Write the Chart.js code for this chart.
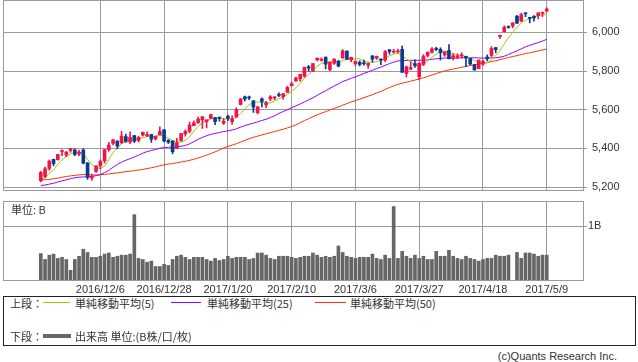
<!DOCTYPE html>
<html>
<head>
<meta charset="utf-8">
<script src="https://cdn.jsdelivr.net/npm/chart.js@4.4.0/dist/chart.umd.min.js"></script>
<style>
  body { margin: 0; background: #fff; width: 638px; height: 362px; overflow: hidden; position: relative;
         font-family: "Noto Sans CJK JP", "Liberation Sans", sans-serif; color: #333; }
  canvas { position: absolute; left: 0; }
  #price { top: 0; }
  #volume { top: 195px; }
  .t { position: absolute; font-size: 11px; line-height: 14px; white-space: nowrap; }
  .ln { position: absolute; height: 0; }
  #legendBox { position: absolute; left: 3px; top: 296px; width: 633px; height: 50px; border: 1px solid #222; box-sizing: border-box; }
</style>
</head>
<body>
<canvas id="price" width="638" height="192"></canvas>
<canvas id="volume" width="638" height="100"></canvas>
<div class="t" style="left:11px; top:202px;">単位: B</div>

<div id="legendBox"></div>
<div class="t" style="left:10px; top:296px;">上段：</div>
<div class="ln" style="left:43px; top:302px; width:27px; border-top:1px solid #99cc00;"></div>
<div class="t" style="left:75px; top:296px;">単純移動平均(5)</div>
<div class="ln" style="left:171px; top:302px; width:30px; border-top:1px solid #9900ff;"></div>
<div class="t" style="left:207px; top:296px;">単純移動平均(25)</div>
<div class="ln" style="left:315px; top:302px; width:31px; border-top:1px solid #ff3300;"></div>
<div class="t" style="left:350px; top:296px;">単純移動平均(50)</div>
<div class="t" style="left:10px; top:329px;">下段：</div>
<div class="ln" style="left:43px; top:334px; width:28px; border-top:4px solid #666;"></div>
<div class="t" style="left:75px; top:329px;">出来高 単位:(B株/口/枚)</div>
<div class="t" style="right:21px; top:349px; font-family:'Liberation Sans',sans-serif;">(c)Quants Research Inc.</div>

<script>
// trading days
const dates = ['2016/11/15','2016/11/16','2016/11/17','2016/11/18','2016/11/21','2016/11/22','2016/11/23','2016/11/25','2016/11/28','2016/11/29',
  '2016/11/30','2016/12/1','2016/12/2','2016/12/5','2016/12/6','2016/12/7','2016/12/8','2016/12/9','2016/12/12','2016/12/13',
  '2016/12/14','2016/12/15','2016/12/16','2016/12/19','2016/12/20','2016/12/21','2016/12/22','2016/12/23','2016/12/27','2016/12/28',
  '2016/12/29','2016/12/30','2017/1/3','2017/1/4','2017/1/5','2017/1/6','2017/1/9','2017/1/10','2017/1/11','2017/1/12',
  '2017/1/13','2017/1/17','2017/1/18','2017/1/19','2017/1/20','2017/1/23','2017/1/24','2017/1/25','2017/1/26','2017/1/27',
  '2017/1/30','2017/1/31','2017/2/1','2017/2/2','2017/2/3','2017/2/6','2017/2/7','2017/2/8','2017/2/9','2017/2/10',
  '2017/2/13','2017/2/14','2017/2/15','2017/2/16','2017/2/17','2017/2/21','2017/2/22','2017/2/23','2017/2/24','2017/2/27',
  '2017/2/28','2017/3/1','2017/3/2','2017/3/3','2017/3/6','2017/3/7','2017/3/8','2017/3/9','2017/3/10','2017/3/13',
  '2017/3/14','2017/3/15','2017/3/16','2017/3/17','2017/3/20','2017/3/21','2017/3/22','2017/3/23','2017/3/24','2017/3/27',
  '2017/3/28','2017/3/29','2017/3/30','2017/3/31','2017/4/3','2017/4/4','2017/4/5','2017/4/6','2017/4/7','2017/4/10',
  '2017/4/11','2017/4/12','2017/4/13','2017/4/17','2017/4/18','2017/4/19','2017/4/20','2017/4/21','2017/4/24','2017/4/25',
  '2017/4/26','2017/4/27','2017/4/28','2017/5/1','2017/5/2','2017/5/3','2017/5/4','2017/5/5','2017/5/8','2017/5/9'];

const opens = [5233,5255,5296,5343,5342,5384,5366,5389,5392,5371,
  5392,5325,5247,5281,5310,5336,5394,5426,5438,5429,
  5461,5433,5466,5441,5469,5465,5472,5449,5470,5496,
  5441,5437,5400,5441,5475,5489,5517,5533,5547,5538,
  5556,5559,5561,5530,5566,5538,5563,5627,5667,5665,
  5646,5585,5656,5626,5656,5660,5678,5668,5690,5724,
  5748,5760,5773,5822,5799,5858,5855,5872,5807,5840,
  5850,5867,5903,5858,5838,5845,5841,5830,5878,5866,
  5861,5856,5910,5897,5899,5912,5787,5810,5838,5770,
  5834,5880,5897,5914,5912,5883,5906,5867,5872,5878,
  5876,5865,5832,5812,5835,5872,5880,5921,5978,6003,
  6029,6033,6083,6058,6101,6075,6083,6086,6098,6110];
const highs = [5281,5303,5340,5345,5370,5392,5384,5400,5397,5390,
  5397,5327,5267,5311,5340,5395,5431,5447,5440,5488,
  5474,5486,5468,5462,5485,5486,5472,5463,5512,5497,
  5446,5441,5452,5478,5496,5536,5542,5562,5564,5548,
  5577,5560,5563,5555,5572,5568,5610,5658,5670,5670,
  5647,5617,5661,5643,5673,5669,5687,5683,5721,5743,
  5768,5783,5819,5829,5839,5868,5868,5872,5846,5863,
  5856,5911,5904,5872,5853,5853,5856,5842,5880,5877,
  5863,5906,5911,5912,5913,5929,5826,5847,5858,5842,
  5885,5898,5921,5923,5920,5900,5936,5889,5889,5895,
  5877,5866,5835,5857,5857,5883,5926,5922,5986,6034,
  6033,6050,6088,6098,6101,6076,6087,6101,6105,6126];
const lows = [5227,5249,5287,5310,5339,5362,5357,5380,5362,5363,
  5320,5240,5235,5276,5295,5324,5385,5418,5399,5425,
  5431,5425,5430,5433,5463,5460,5431,5443,5469,5434,
  5425,5372,5398,5438,5463,5480,5517,5529,5503,5506,
  5553,5523,5541,5524,5543,5524,5559,5624,5645,5652,
  5586,5578,5614,5611,5646,5652,5667,5655,5690,5722,
  5747,5747,5768,5798,5797,5852,5851,5811,5802,5834,
  5821,5867,5859,5847,5828,5826,5830,5813,5846,5860,
  5833,5848,5887,5893,5893,5792,5769,5806,5819,5755,
  5828,5872,5892,5905,5857,5876,5862,5857,5864,5867,
  5822,5832,5805,5812,5829,5852,5874,5894,5968,6001,
  6021,6023,6045,6055,6081,6049,6057,6069,6081,6105];
const closes = [5275.6,5294.6,5334.0,5321.5,5368.9,5386.4,5380.7,5398.9,5368.8,5379.9,
  5323.7,5251.1,5255.7,5308.9,5333.0,5393.8,5417.4,5444.5,5412.5,5463.8,
  5436.7,5456.9,5437.2,5457.4,5483.9,5471.4,5447.4,5462.7,5487.4,5438.6,
  5432.1,5383.1,5429.1,5477.0,5487.9,5521.1,5531.8,5551.8,5563.7,5547.5,
  5574.1,5538.7,5555.7,5540.1,5555.3,5552.9,5601.0,5656.3,5655.2,5660.8,
  5613.7,5614.8,5642.7,5636.2,5666.8,5663.6,5674.2,5682.5,5715.2,5734.1,
  5764.0,5782.6,5819.4,5814.9,5838.6,5866.0,5860.6,5835.5,5845.3,5861.9,
  5825.4,5904.0,5861.2,5870.8,5849.2,5833.9,5837.6,5838.8,5861.7,5875.8,
  5856.8,5900.1,5900.8,5901.0,5901.5,5793.8,5821.6,5817.7,5828.7,5840.4,
  5875.1,5897.6,5914.3,5911.7,5894.7,5898.6,5864.5,5879.0,5877.8,5880.9,
  5866.8,5836.2,5805.2,5856.8,5849.5,5863.0,5916.8,5910.5,5983.8,6025.5,
  6025.2,6048.9,6047.6,6091.6,6095.4,6072.6,6075.3,6100.8,6102.7,6120.6];

const ma5 = [5238.2,5246.9,5271.9,5288.8,5318.9,5341.1,5358.3,5371.3,5380.7,5382.9,
  5370.4,5344.5,5315.8,5303.9,5294.5,5308.5,5341.8,5379.5,5400.2,5426.4,
  5435.0,5442.9,5441.4,5450.4,5454.4,5461.4,5459.5,5464.6,5470.6,5461.5,
  5453.6,5440.8,5434.1,5432.0,5441.8,5459.6,5489.4,5513.9,5531.3,5543.2,
  5553.8,5555.2,5555.9,5551.2,5552.8,5548.5,5561.0,5581.1,5604.1,5625.2,
  5637.4,5640.2,5637.4,5633.6,5634.8,5644.8,5656.7,5664.7,5680.5,5693.9,
  5714.0,5735.7,5763.1,5783.0,5803.9,5824.3,5839.9,5843.1,5849.2,5853.9,
  5845.7,5854.4,5859.6,5864.7,5862.1,5863.8,5850.5,5846.1,5844.2,5849.6,
  5854.1,5866.6,5879.0,5886.9,5892.0,5879.4,5863.7,5847.1,5832.7,5820.4,
  5836.7,5851.9,5871.2,5887.8,5898.7,5903.4,5896.8,5889.7,5882.9,5880.2,
  5873.8,5868.1,5853.4,5849.2,5842.9,5842.1,5858.3,5879.3,5904.7,5939.9,
  5972.4,5998.8,6026.2,6047.8,6061.7,6071.2,6076.5,6087.1,6089.4,6094.4];
const ma25 = [5208.4,5210.6,5215.4,5219.7,5226.5,5232.2,5237.5,5243.8,5248.3,5251.1,
  5252.7,5252.7,5254.3,5259.1,5264.8,5274.4,5286.9,5302.4,5317.0,5328.9,
  5338.6,5346.9,5356.0,5364.8,5375.4,5383.3,5389.4,5394.5,5401.2,5404.0,
  5405.8,5405.9,5407.1,5411.4,5415.7,5423.6,5434.9,5446.7,5456.9,5465.5,
  5472.7,5477.5,5482.0,5487.1,5490.7,5495.4,5501.2,5509.9,5517.8,5524.9,
  5530.6,5537.3,5544.5,5550.4,5559.6,5568.8,5580.5,5590.6,5600.1,5610.0,
  5619.7,5629.7,5640.4,5650.5,5662.1,5673.8,5686.7,5697.9,5710.1,5722.4,
  5733.3,5745.4,5753.6,5762.2,5769.7,5778.5,5787.4,5795.3,5804.3,5812.7,
  5820.4,5829.4,5838.2,5845.6,5852.3,5853.5,5855.0,5855.0,5855.5,5855.6,
  5856.0,5857.4,5860.6,5863.3,5864.6,5867.5,5865.9,5866.6,5866.9,5868.2,
  5869.5,5869.4,5868.1,5867.9,5866.8,5867.1,5867.8,5868.1,5871.5,5876.4,
  5885.7,5894.8,5904.0,5914.5,5924.7,5932.6,5939.7,5947.1,5954.8,5963.8];
const ma50 = [5237.5,5237.7,5239.2,5243.1,5246.3,5250.9,5255.0,5258.0,5260.5,5263.4,
  5265.0,5264.1,5262.5,5262.5,5264.0,5265.8,5267.8,5271.3,5273.3,5276.6,
  5279.5,5282.3,5284.9,5288.2,5291.3,5295.8,5300.0,5305.0,5310.5,5315.3,
  5319.0,5321.7,5325.5,5329.9,5333.4,5338.2,5343.8,5350.5,5358.0,5365.2,
  5373.6,5382.2,5392.2,5402.1,5409.8,5417.0,5424.1,5433.0,5441.3,5450.2,
  5457.0,5463.4,5469.5,5475.8,5481.8,5487.3,5493.2,5498.9,5505.8,5512.9,
  5521.7,5532.3,5543.6,5553.7,5563.8,5573.3,5582.1,5590.0,5598.6,5606.6,
  5614.4,5623.3,5631.8,5640.0,5647.3,5654.6,5662.4,5669.9,5677.4,5686.2,
  5694.6,5705.0,5714.4,5722.9,5731.2,5736.6,5742.4,5747.7,5753.0,5758.9,
  5764.9,5772.1,5779.3,5786.7,5793.5,5800.4,5805.7,5810.1,5814.6,5819.0,
  5824.0,5828.4,5831.7,5836.1,5839.8,5843.8,5848.6,5853.2,5858.6,5864.4,
  5869.6,5874.9,5879.5,5885.0,5890.2,5894.3,5898.6,5903.9,5909.1,5914.2];

// volume, in B
const volumes = [0.49,0.38,0.46,0.48,0.40,0.42,0.38,0.18,0.38,0.44,
  0.57,0.51,0.42,0.42,0.44,0.48,0.50,0.42,0.44,0.46,
  0.46,0.48,1.21,0.40,0.38,0.33,0.35,0.25,0.25,0.29,
  0.27,0.38,0.44,0.46,0.42,0.38,0.42,0.42,0.42,0.38,
  0.35,0.40,0.36,0.38,0.44,0.40,0.42,0.42,0.42,0.38,
  0.40,0.50,0.50,0.46,0.40,0.38,0.44,0.44,0.44,0.42,
  0.40,0.42,0.44,0.44,0.50,0.46,0.42,0.44,0.42,0.44,
  0.63,0.51,0.44,0.42,0.40,0.42,0.42,0.42,0.48,0.40,
  0.38,0.46,0.40,1.36,0.40,0.53,0.44,0.40,0.46,0.40,
  0.44,0.38,0.38,0.53,0.44,0.44,0.55,0.44,0.40,0.38,
  0.44,0.40,0.38,0.35,0.38,0.40,0.40,0.46,0.44,0.44,
  0.46,null,0.51,0.40,0.50,0.50,0.48,0.44,0.46,0.46];

const xTicks = ['2016/12/6','2016/12/28','2017/1/20','2017/2/10','2017/3/6','2017/3/27','2017/4/18','2017/5/9'];
const priceTicks = [5200, 5400, 5600, 5800, 6000];
const volTicks = [1];

const UP = '#f0144b', DOWN = '#0b3a8f', GRID = '#9a9a9a';
const X_MIN = -8.89, X_MAX = 127.53;

Chart.defaults.font.family = 'Liberation Sans';
Chart.defaults.font.size = 11;
Chart.defaults.color = '#333';

// grey frame round the plot area
const frame = {
  id: 'frame',
  afterDraw(chart) {
    const { ctx, chartArea: a } = chart;
    ctx.save();
    ctx.strokeStyle = GRID;
    ctx.lineWidth = 1;
    ctx.strokeRect(Math.round(a.left) + 0.5, Math.round(a.top) + 0.5,
                   Math.round(a.right - a.left), Math.round(a.bottom - a.top));
    ctx.restore();
  }
};

const noPad = s => { s.paddingTop = 0; s.paddingBottom = 0; s.paddingLeft = 0; s.paddingRight = 0; };
const tickIdx = xTicks.map(d => dates.indexOf(d));
const color = i => closes[i] >= opens[i] ? UP : DOWN;

function xScale(showLabels) {
  return {
    type: 'linear', min: X_MIN, max: X_MAX, offset: false,
    afterBuildTicks: s => { s.ticks = tickIdx.map(v => ({ value: v })); },
    afterFit: s => { s.height = showLabels ? 15 : 0; noPad(s); },
    grid: { color: GRID, drawTicks: false, offset: false },
    border: { display: false },
    ticks: { display: showLabels, padding: 3, maxRotation: 0, autoSkip: false,
             callback: v => dates[v] }
  };
}

new Chart(document.getElementById('price'), {
  type: 'bar',
  data: {
    datasets: [
      { type: 'bar', order: 0, grouped: false, barThickness: 3, minBarLength: 1,
        data: dates.map((d, i) => ({ x: i, y: [opens[i], closes[i]] })),
        backgroundColor: c => color(c.dataIndex) },
      { type: 'bar', order: 1, grouped: false, barThickness: 1,
        data: dates.map((d, i) => ({ x: i, y: [lows[i], highs[i]] })),
        backgroundColor: c => color(c.dataIndex) },
      { type: 'line', order: 2, data: dates.map((d, i) => ({ x: i, y: ma5[i] })),
        borderColor: '#99cc00', borderWidth: 1, pointRadius: 0, pointHoverRadius: 0 },
      { type: 'line', order: 3, data: dates.map((d, i) => ({ x: i, y: ma25[i] })),
        borderColor: '#9900ff', borderWidth: 1, pointRadius: 0, pointHoverRadius: 0 },
      { type: 'line', order: 4, data: dates.map((d, i) => ({ x: i, y: ma50[i] })),
        borderColor: '#ff3300', borderWidth: 1, pointRadius: 0, pointHoverRadius: 0 }
    ]
  },
  options: {
    responsive: false, animation: false,
    layout: { autoPadding: false, padding: { left: 3, top: 0, right: 0, bottom: 2 } },
    plugins: { legend: { display: false }, tooltip: { enabled: false } },
    scales: {
      x: xScale(false),
      y: {
        position: 'right', min: 5185, max: 6167,
        afterBuildTicks: s => { s.ticks = priceTicks.map(v => ({ value: v })); },
        afterFit: s => { s.width = 55; noPad(s); },
        grid: { color: GRID, tickLength: 4 },
        border: { display: false },
        ticks: { padding: 5, callback: v => v.toLocaleString('en-US') }
      }
    }
  },
  plugins: [frame]
});

new Chart(document.getElementById('volume'), {
  type: 'bar',
  data: {
    datasets: [{
      data: dates.map((d, i) => ({ x: i, y: volumes[i] })),
      backgroundColor: '#666', barThickness: 3
    }]
  },
  options: {
    responsive: false, animation: false,
    layout: { autoPadding: false, padding: { left: 3, top: 6, right: 0, bottom: 0 } },
    plugins: { legend: { display: false }, tooltip: { enabled: false } },
    scales: {
      x: xScale(true),
      y: {
        position: 'right', min: 0, max: 1.463,
        afterBuildTicks: s => { s.ticks = volTicks.map(v => ({ value: v })); },
        afterFit: s => { s.width = 55; noPad(s); },
        grid: { color: GRID, tickLength: 4 },
        border: { display: false },
        ticks: { padding: 1, callback: v => v + 'B' }
      }
    }
  },
  plugins: [frame]
});
</script>
</body>
</html>
